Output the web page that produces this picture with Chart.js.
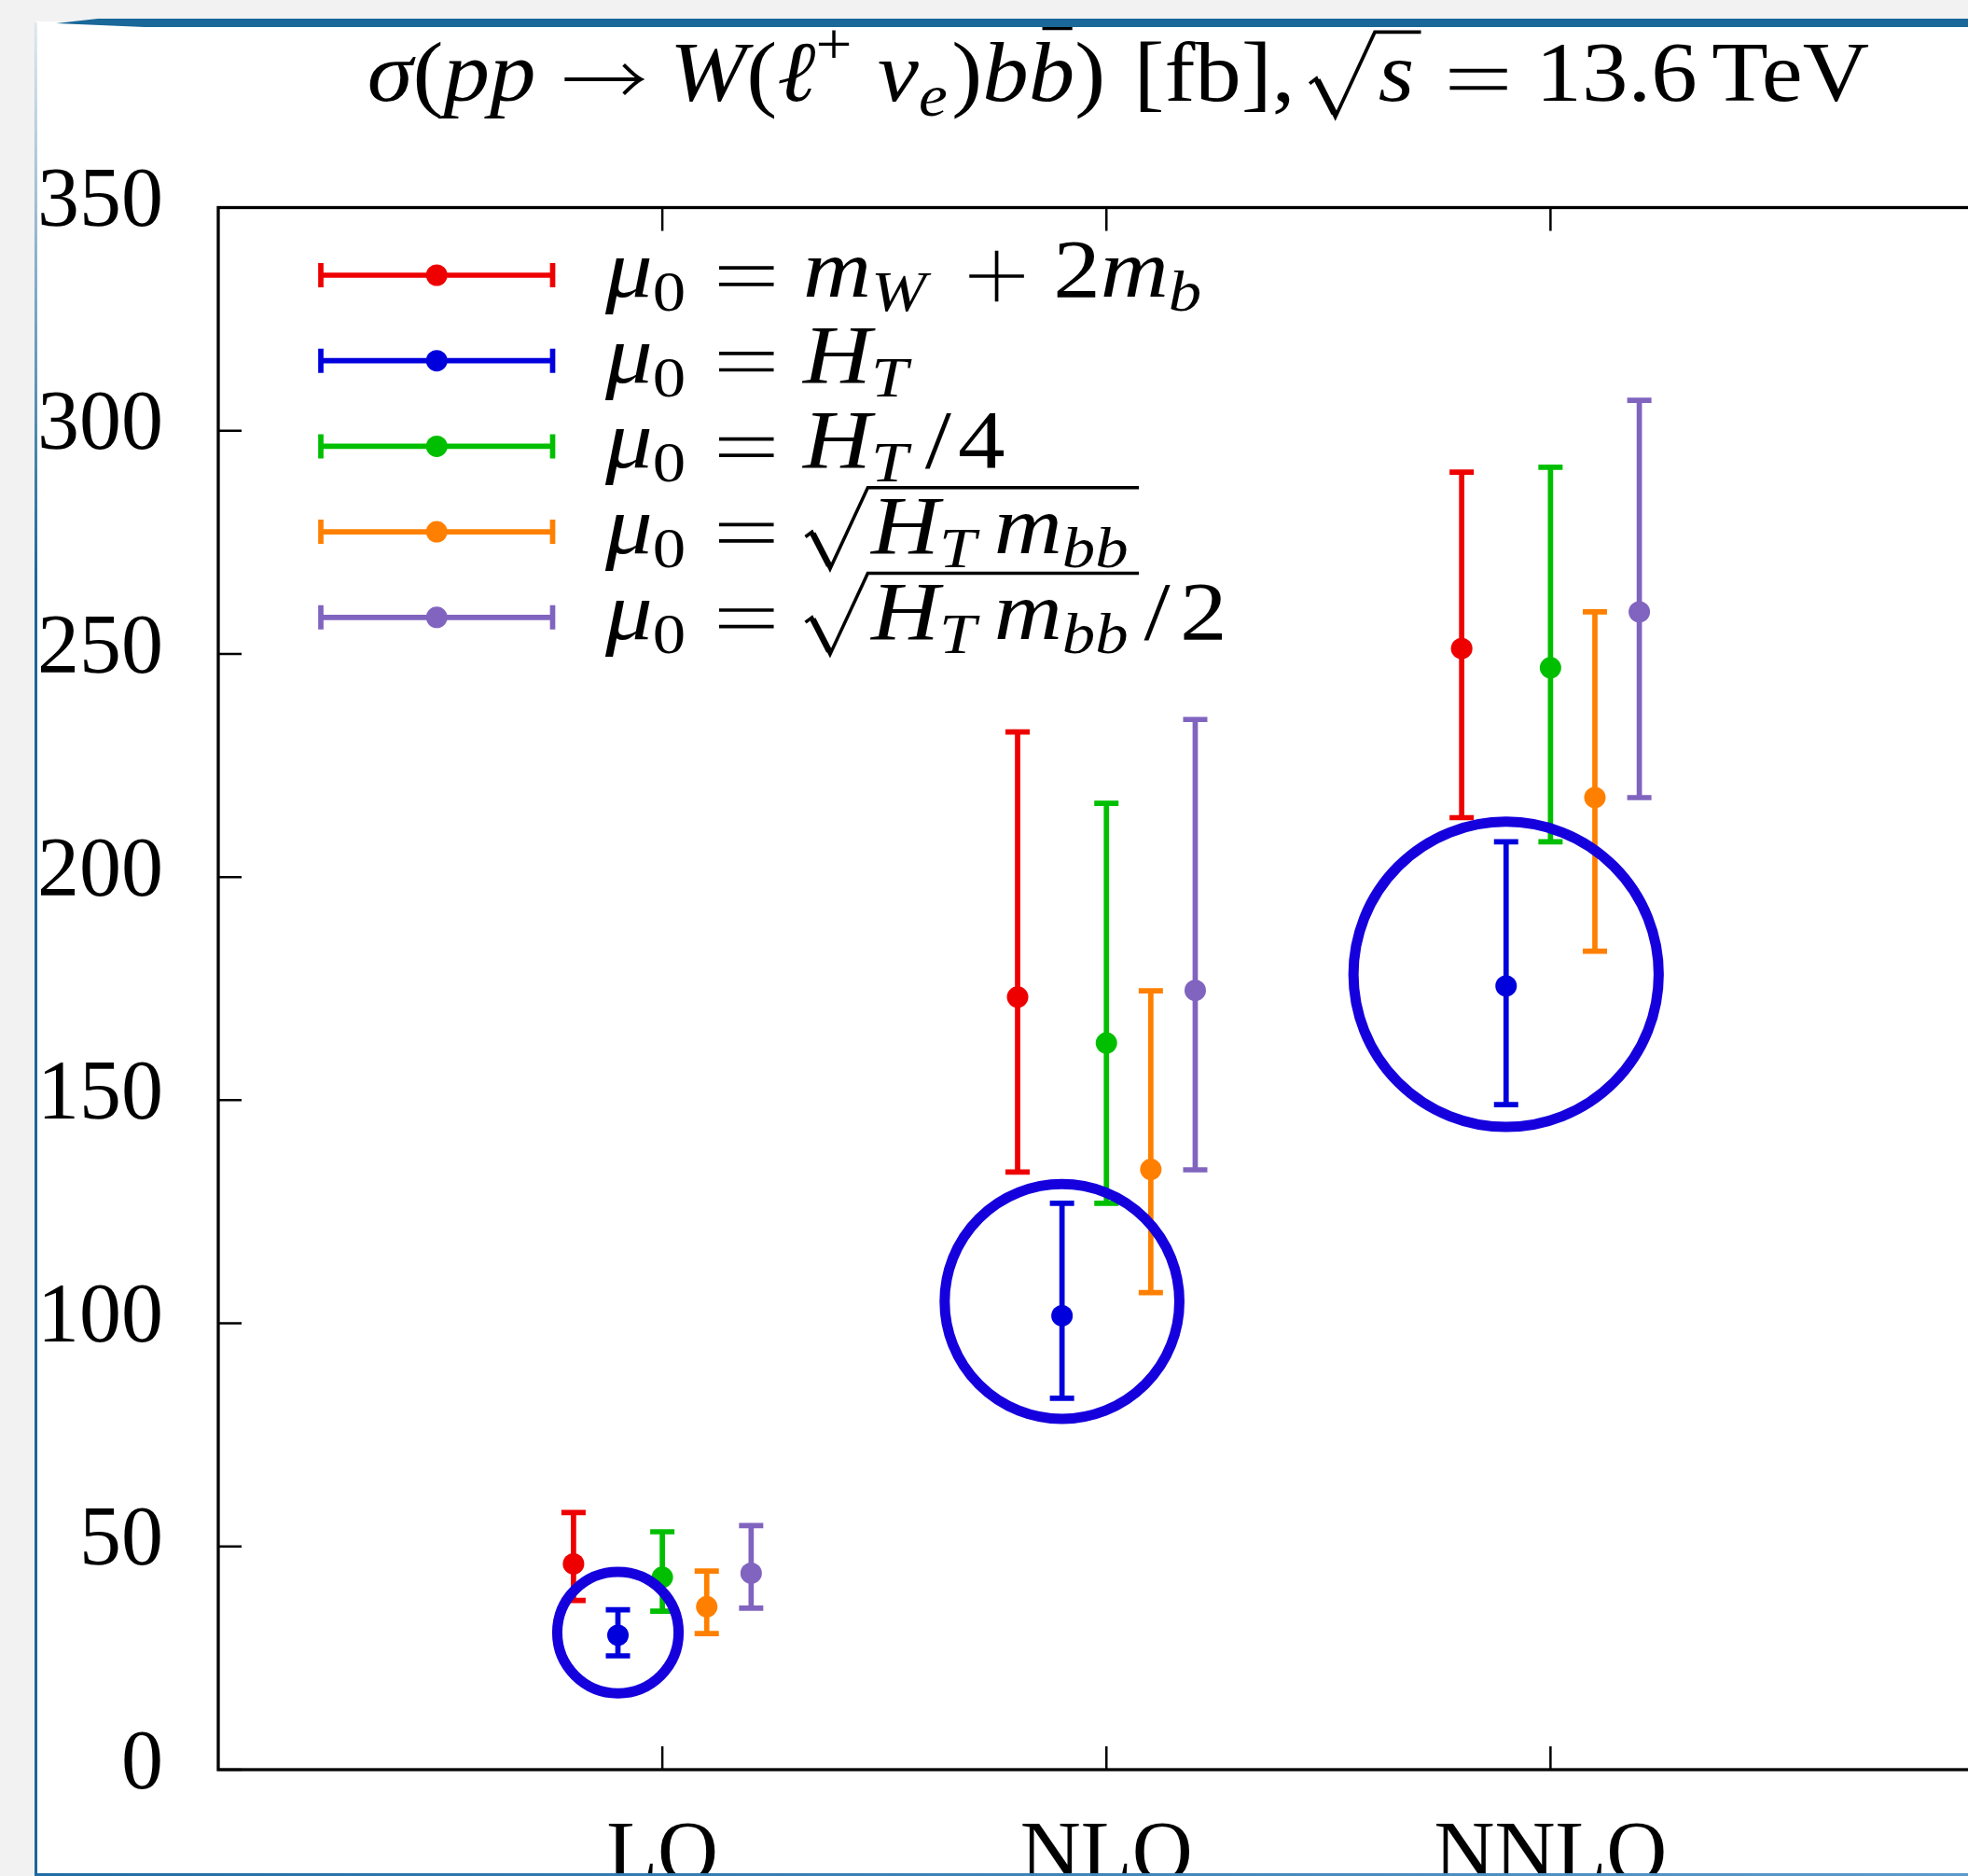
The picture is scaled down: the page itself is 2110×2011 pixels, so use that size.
<!DOCTYPE html>
<html>
<head>
<meta charset="utf-8">
<title>W(l+ nu) b bbar cross section</title>
<script src="https://cdn.jsdelivr.net/npm/chart.js@4.4.1/dist/chart.umd.min.js"></script>
<style>
  html, body { margin: 0; padding: 0; width: 2110px; height: 2011px; overflow: hidden; background: #f2f2f2; }
  .sheet { position: absolute; left: 38px; top: 23px; right: 0; bottom: 0; background: #fff; }
  #chart { position: absolute; left: 0; top: 0; }
  .band { position: absolute; left: 60px; top: 20px; right: 0; height: 9px; background: #1a6799;
          clip-path: polygon(0 55%, 45px 0, 100% 0, 100% 100%, 95px 100%); }
  .edge-left { position: absolute; left: 37px; top: 24px; bottom: 0; width: 3px;
               background: linear-gradient(to bottom, rgba(26,103,153,.12), #1a6799 30%); }
  .edge-bottom { position: absolute; left: 38px; right: 0; bottom: 0; height: 3px;
                 background: linear-gradient(to right, #1f6da6, #5b9acb); }
</style>
</head>
<body>
<div class="sheet"></div>
<canvas id="chart" width="2150" height="2011"></canvas>
<div class="band"></div>
<div class="edge-left"></div>
<div class="edge-bottom"></div>
<script>
const FONT = '"Liberation Serif", "Times New Roman", serif';

// perturbative orders along x
const orders = ['LO', 'NLO', 'NNLO'];
const orderPos = [1, 2, 3];
const yTicks = [0, 50, 100, 150, 200, 250, 300, 350];

// sigma [fb]: central value and scale-variation envelope per order
const xsMwb   = [46.1, 173.1, 251.2];
const xsMwbLo = [37.9, 133.9, 213.3];
const xsMwbHi = [57.6, 232.5, 290.7];

const xsHt   = [30.1, 101.7, 175.6];
const xsHtLo = [25.5, 83.2, 149.0];
const xsHtHi = [35.8, 126.9, 207.9];

const xsHt4   = [43.1, 162.8, 246.9];
const xsHt4Lo = [35.5, 126.9, 207.9];
const xsHt4Hi = [53.3, 216.5, 291.8];

const xsSqrt   = [36.5, 134.5, 217.8];
const xsSqrtLo = [30.5, 106.9, 183.4];
const xsSqrtHi = [44.5, 174.5, 259.4];

const xsSqrt2   = [44.0, 174.6, 259.4];
const xsSqrt2Lo = [36.2, 134.4, 217.8];
const xsSqrt2Hi = [54.7, 235.3, 306.8];

// highlight rings around the H_T points (centre x, centre y, radius in fb)
const ringX = [0.9, 1.9, 2.9];
const ringY = [30.7, 104.9, 178.2];
const ringR = [13.6, 26.3, 34.2];

// math runs: [text, flags] with i = italic, b = subscript, p = superscript,
// - = bar, o = operator drawn with strokes; numbers are spaces in em,
// {sqrt: [...]} is a radical over the inner runs
const MU0 = [['μ', 'i'], ['0', 'b'], 0.3, ['=', 'o'], 0.3];
const SQRT_HM = { sqrt: [['H', 'i'], ['T', 'ib'], 0.17, ['m', 'i'], ['bb', 'ib']] };

const series = [
  { color: '#ee0000', shift: -0.2, mid: xsMwb, lo: xsMwbLo, hi: xsMwbHi,
    label: [...MU0, ['m', 'i'], ['W', 'ib'], 0.42, ['+', 'o'], 0.3, ['2'], ['m', 'i'], ['b', 'ib']] },
  { color: '#0000dd', shift: -0.1, mid: xsHt, lo: xsHtLo, hi: xsHtHi,
    label: [...MU0, ['H', 'i'], ['T', 'ib']] },
  { color: '#00bf00', shift: 0, mid: xsHt4, lo: xsHt4Lo, hi: xsHt4Hi,
    label: [...MU0, ['H', 'i'], ['T', 'ib'], 0.16, ['/'], 0.08, ['4']] },
  { color: '#ff8000', shift: 0.1, mid: xsSqrt, lo: xsSqrtLo, hi: xsSqrtHi,
    label: [...MU0, 0.03, SQRT_HM] },
  { color: '#8064bf', shift: 0.2, mid: xsSqrt2, lo: xsSqrt2Lo, hi: xsSqrt2Hi,
    label: [...MU0, 0.03, SQRT_HM, 0.06, ['/'], 0.12, ['2']] }
];

const titleRuns = [
  ['σ', 'i'], ['('], ['pp', 'i'], 0.28, ['→', 'o'], 0.28, ['W', 'i'], ['('], ['ℓ', 'i'], ['+', 'p'], 0.25,
  ['ν', 'i'], ['e', 'ib'], [')'], ['b', 'i'], ['b', 'i-'], [')'], 0.33, ['[fb],'], 0.17,
  { sqrt: [['s', 'i']] }, 0.28, ['=', 'o'], 0.28, ['13.6'], 0.17, ['TeV']
];

function runFont(flags, em) {
  const small = flags.includes('b') || flags.includes('p');
  return (flags.includes('i') ? 'italic ' : '') + (small ? em * 0.7 : em) + 'px ' + FONT;
}

// relation / binary operators and the arrow, stroked at the math axis
function drawOp(ctx, op, x, base, em, adv) {
  const ax = base - 0.25 * em, m = 0.056 * em;
  ctx.lineWidth = 0.042 * em;
  ctx.beginPath();
  if (op === '=') {
    ctx.moveTo(x + m, ax - 0.1 * em); ctx.lineTo(x + adv - m, ax - 0.1 * em);
    ctx.moveTo(x + m, ax + 0.1 * em); ctx.lineTo(x + adv - m, ax + 0.1 * em);
  } else if (op === '+') {
    ctx.moveTo(x + m, ax); ctx.lineTo(x + adv - m, ax);
    ctx.moveTo(x + adv / 2, ax - 0.31 * em); ctx.lineTo(x + adv / 2, ax + 0.31 * em);
  } else {
    const tip = x + adv - m;
    ctx.moveTo(x + m, ax); ctx.lineTo(tip, ax);
    ctx.moveTo(tip - 0.2 * em, ax - 0.17 * em);
    ctx.quadraticCurveTo(tip - 0.06 * em, ax - 0.03 * em, tip, ax);
    ctx.quadraticCurveTo(tip - 0.06 * em, ax + 0.03 * em, tip - 0.2 * em, ax + 0.17 * em);
  }
  ctx.stroke();
}

// lays out (and optionally paints) a list of math runs, returns the width;
// sx widens the glyphs a little towards Computer Modern proportions
function mathRuns(ctx, runs, x, base, em, sx, draw) {
  let cx = x;
  runs.forEach(r => {
    if (typeof r === 'number') { cx += r * em; return; }
    if (r.sqrt) {
      const inner = mathRuns(ctx, r.sqrt, 0, base, em, sx, false);
      const top = base - 0.8 * em, open = cx + 0.76 * em, end = open + 0.04 * em + inner + 0.08 * em;
      if (draw) {
        ctx.lineWidth = 0.04 * em;
        ctx.beginPath();
        ctx.moveTo(cx, base - 0.2 * em);
        ctx.lineTo(cx + 0.08 * em, base - 0.26 * em);
        ctx.lineTo(cx + 0.3 * em, base + 0.19 * em);
        ctx.lineTo(open, top);
        ctx.lineTo(end, top);
        ctx.stroke();
        ctx.lineWidth = 0.075 * em;
        ctx.beginPath();
        ctx.moveTo(cx + 0.09 * em, base - 0.24 * em);
        ctx.lineTo(cx + 0.29 * em, base + 0.15 * em);
        ctx.stroke();
        mathRuns(ctx, r.sqrt, open + 0.04 * em, base, em, sx, true);
      }
      cx = end;
      return;
    }
    const t = r[0], f = r[1] || '';
    if (f.includes('o')) {
      const adv = (t === '→' ? 1.0 : 0.778) * em;
      if (draw) drawOp(ctx, t, cx, base, em, adv);
      cx += adv;
      return;
    }
    ctx.font = runFont(f, em);
    const w = ctx.measureText(t).width * sx;
    const script = f.includes('b') || f.includes('p');
    const dy = f.includes('b') ? 0.17 * em : f.includes('p') ? -0.42 * em : 0;
    if (draw) {
      ctx.save();
      ctx.translate(cx, base + dy);
      ctx.scale(sx, 1);
      ctx.fillText(t, 0, 0);
      ctx.restore();
      if (f.includes('-')) {
        ctx.lineWidth = 0.035 * em;
        ctx.beginPath();
        ctx.moveTo(cx + 0.3 * w, base - 0.84 * em);
        ctx.lineTo(cx + 0.95 * w, base - 0.84 * em);
        ctx.stroke();
      }
    }
    cx += w + (script ? 0.05 * em : 0);
  });
  return cx - x;
}

// box, inward ticks and the error bars under the points
const framePlugin = {
  id: 'frame',
  beforeDatasetsDraw(c) {
    const { ctx, chartArea: a, scales: { x, y } } = c;
    ctx.save();
    ctx.strokeStyle = '#000';
    ctx.lineWidth = 3.3;
    ctx.strokeRect(a.left, a.top, a.right - a.left, a.bottom - a.top);
    ctx.lineWidth = 2.5;
    ctx.beginPath();
    yTicks.forEach(v => {
      const py = y.getPixelForValue(v);
      ctx.moveTo(a.left, py); ctx.lineTo(a.left + 25, py);
      ctx.moveTo(a.right, py); ctx.lineTo(a.right - 25, py);
    });
    orderPos.forEach(v => {
      const px = x.getPixelForValue(v);
      ctx.moveTo(px, a.bottom); ctx.lineTo(px, a.bottom - 25);
      ctx.moveTo(px, a.top); ctx.lineTo(px, a.top + 25);
    });
    ctx.stroke();

    ctx.lineWidth = 5.7;
    series.forEach(s => {
      ctx.strokeStyle = s.color;
      ctx.beginPath();
      orderPos.forEach((p, i) => {
        const px = x.getPixelForValue(p + s.shift);
        const yl = y.getPixelForValue(s.lo[i]), yh = y.getPixelForValue(s.hi[i]);
        ctx.moveTo(px, yl); ctx.lineTo(px, yh);
        ctx.moveTo(px - 13, yl); ctx.lineTo(px + 13, yl);
        ctx.moveTo(px - 13, yh); ctx.lineTo(px + 13, yh);
      });
      ctx.stroke();
    });
    ctx.restore();
  }
};

const ringPlugin = {
  id: 'rings',
  afterDatasetsDraw(c) {
    const { ctx, scales: { x, y } } = c;
    ctx.save();
    ctx.strokeStyle = '#1500dd';
    ctx.lineWidth = 11;
    ringX.forEach((rx, i) => {
      const py = y.getPixelForValue(ringY[i]);
      const r = py - y.getPixelForValue(ringY[i] + ringR[i]);
      ctx.beginPath();
      ctx.arc(x.getPixelForValue(rx), py, r, 0, 2 * Math.PI);
      ctx.stroke();
    });
    ctx.restore();
  }
};

const textPlugin = {
  id: 'mathText',
  afterDraw(c) {
    const { ctx, chartArea: a } = c;
    ctx.save();
    ctx.textBaseline = 'alphabetic';
    ctx.textAlign = 'left';
    ctx.lineCap = 'butt';

    series.forEach((s, k) => {
      const cy = a.top + 72.5 + k * 91.7;
      const x0 = a.left + 110, x1 = a.left + 358.5;
      ctx.strokeStyle = s.color;
      ctx.lineWidth = 5.7;
      ctx.beginPath();
      ctx.moveTo(x0, cy); ctx.lineTo(x1, cy);
      ctx.moveTo(x0, cy - 13); ctx.lineTo(x0, cy + 13);
      ctx.moveTo(x1, cy - 13); ctx.lineTo(x1, cy + 13);
      ctx.stroke();
      ctx.fillStyle = s.color;
      ctx.beginPath();
      ctx.arc((x0 + x1) / 2, cy, 11.5, 0, 2 * Math.PI);
      ctx.fill();
      ctx.fillStyle = '#000';
      ctx.strokeStyle = '#000';
      mathRuns(ctx, s.label, a.left + 415, cy + 23, 88, 1.15, true);
    });

    const em = 92, sx = 1.075;
    const w = mathRuns(ctx, titleRuns, 0, 0, em, sx, false);
    ctx.fillStyle = '#000';
    ctx.strokeStyle = '#000';
    mathRuns(ctx, titleRuns, 1199 - w / 2, 108, em, sx, true);
    ctx.restore();
  }
};

const tickFont = { family: FONT, size: 90 };

new Chart(document.getElementById('chart'), {
  type: 'scatter',
  data: {
    datasets: series.map(s => ({
      data: s.mid.map((v, i) => ({ x: orderPos[i] + s.shift, y: v })),
      backgroundColor: s.color,
      borderColor: s.color,
      borderWidth: 0,
      pointRadius: 11.5,
      pointHoverRadius: 11.5,
      clip: false
    }))
  },
  options: {
    responsive: false,
    animation: false,
    devicePixelRatio: 1,
    events: [],
    layout: { padding: { top: 222.5, right: 10.8, left: 0, bottom: 0 } },
    plugins: { legend: { display: false }, tooltip: { enabled: false } },
    scales: {
      x: {
        type: 'linear', min: 0, max: 4,
        grid: { display: false, drawTicks: false },
        border: { display: false },
        afterBuildTicks: s => { s.ticks = orderPos.map(v => ({ value: v })); },
        afterFit: s => { s.height = 114; },
        ticks: {
          callback: v => orders[orderPos.indexOf(v)],
          font: tickFont, color: '#000', padding: 40, maxRotation: 0, autoSkip: false
        }
      },
      y: {
        min: 0, max: 350,
        grid: { display: false, drawTicks: false },
        border: { display: false },
        afterBuildTicks: s => { s.ticks = yTicks.map(v => ({ value: v })); },
        afterFit: s => { s.width = 234; },
        ticks: { font: tickFont, color: '#000', padding: 59, labelOffset: -4 }
      }
    }
  },
  plugins: [framePlugin, ringPlugin, textPlugin]
});
</script>
</body>
</html>
